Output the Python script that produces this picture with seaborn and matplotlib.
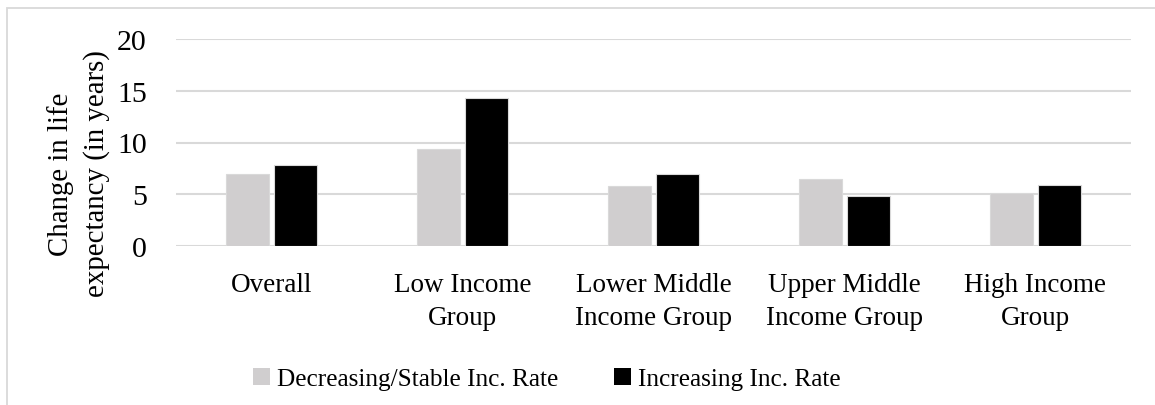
import matplotlib
matplotlib.use("Agg")
import matplotlib.pyplot as plt
import matplotlib.patches as mpatches
import pandas as pd
import seaborn as sns

# chart data
categories = ["Overall", "Low Income\nGroup", "Lower Middle\nIncome Group",
              "Upper Middle\nIncome Group", "High Income\nGroup"]
series_names = ["Decreasing/Stable Inc. Rate", "Increasing Inc. Rate"]
decreasing_stable = [7.0, 9.4, 5.8, 6.5, 5.1]
increasing = [7.8, 14.3, 7.0, 4.8, 5.9]
y_ticks = [0, 5, 10, 15, 20]
y_label = "Change in life\nexpectancy (in years)"

GRAY = "#d0cecf"
BLACK = "#000000"
GRID = "#d9d9d9"

df = pd.DataFrame({
    "Category": categories * 2,
    "Series": [series_names[0]] * len(categories) + [series_names[1]] * len(categories),
    "Value": decreasing_stable + increasing,
})

sns.set_theme(style="white", rc={"text.color": "black", "axes.labelcolor": "black",
                                 "xtick.color": "black", "ytick.color": "black"})
plt.rcParams["font.family"] = ["Liberation Serif", "DejaVu Serif"]

fig = plt.figure(figsize=(11.55, 4.06), dpi=100)
ax = fig.add_axes([176 / 1155, 1 - 247 / 406, 955 / 1155, 207 / 406])

sns.barplot(data=df, x="Category", y="Value", hue="Series", order=categories,
            hue_order=series_names, palette=[GRAY, BLACK], width=0.51, gap=0.12,
            edgecolor=GRID, linewidth=0.8, ax=ax, legend=False, zorder=3)

ax.set_ylim(0, 20)
ax.set_yticks(y_ticks)
ax.set_xlim(-0.5, len(categories) - 0.5)
ax.yaxis.grid(True, color=GRID, linewidth=1.5, zorder=0)
ax.set_axisbelow(True)
for s in ax.spines.values():
    s.set_visible(False)
ax.tick_params(axis="y", length=0, pad=21, labelsize=21.5)
ax.tick_params(axis="x", length=0, pad=19, labelsize=19.5)
for lab in ax.get_xticklabels():
    lab.set_linespacing(1.4)
ax.set_xlabel("")
ax.set_ylabel(y_label, fontsize=20.8, linespacing=1.45)
ax.yaxis.set_label_coords(-0.069, 0.353)

handles = [mpatches.Patch(facecolor=GRAY, edgecolor="none", label=series_names[0]),
           mpatches.Patch(facecolor=BLACK, edgecolor="none", label=series_names[1])]
fig.legend(handles=handles, loc="center", bbox_to_anchor=(547 / 1155, 1 - 380 / 406),
           ncol=2, frameon=False, fontsize=18.2, handlelength=0.65, handleheight=0.65,
           handletextpad=0.3, columnspacing=2.2)

# outer chart border (partly cropped in the source)
fig.add_artist(mpatches.Rectangle((7 / 1155, -0.1), 1.2, 1 - 9 / 406 + 0.1,
                                  transform=fig.transFigure, fill=False,
                                  edgecolor="#d9d9d9", linewidth=1.3))

fig.savefig("out.png", dpi=100)
